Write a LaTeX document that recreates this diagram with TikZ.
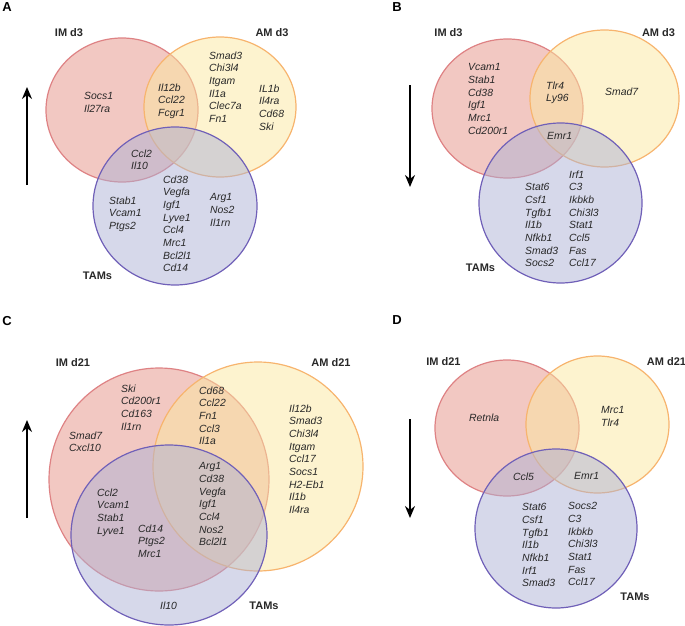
\documentclass[tikz,border=0pt]{standalone}
\usepackage{fontspec}
\setmainfont{Liberation Sans}
\usetikzlibrary{arrows.meta}
\definecolor{redfill}{RGB}{229,145,133}
\definecolor{yelfill}{RGB}{251,231,159}
\definecolor{blufill}{RGB}{173,177,213}
\definecolor{redline}{RGB}{222,130,132}
\definecolor{yelline}{RGB}{247,180,110}
\definecolor{bluline}{RGB}{112,96,184}
\definecolor{txt}{RGB}{40,40,40}
\begin{document}
\begin{tikzpicture}[x=1pt,y=-1pt,
  imset/.style={draw=redline,fill=redfill,fill opacity=0.5,line width=1.2pt},
  amset/.style={draw=yelline,fill=yelfill,fill opacity=0.5,line width=1.2pt},
  tamset/.style={draw=bluline,fill=blufill,fill opacity=0.5,line width=1.2pt},
  gene/.style={font=\fontsize{10.4}{12.7}\selectfont\itshape,anchor=north west,inner sep=0pt,align=left,text=txt},
  setlabel/.style={font=\fontsize{11}{13}\selectfont\bfseries,inner sep=0pt,text=txt},
  panel/.style={font=\fontsize{13}{15}\selectfont\bfseries,inner sep=0pt,text=black},
  trend/.style={line width=1.7pt,-{Stealth[length=12pt,width=10pt]}}]
\useasboundingbox (0,0) rectangle (685,626);

% ---------------- Panel A ----------------
\draw[imset] (122,110) ellipse [x radius=76pt,y radius=72pt];
\draw[amset] (220,107) ellipse [x radius=76pt,y radius=70pt];
\draw[tamset] (175,206) ellipse [x radius=82pt,y radius=79pt];
\node[panel] (pA) at (7,7) {A};
\node[setlabel] (lA1) at (69,33) {IM d3};
\node[setlabel] (lA2) at (272,33) {AM d3};
\node[setlabel] (lA3) at (97.5,276) {TAMs};
\node[gene] (a1) at (84,92.3) {Socs1\\Il27ra};
\node[gene] (a2) at (158,83.3) {Il12b\\Ccl22\\Fcgr1};
\node[gene] (a3) at (209,51.3) {Smad3\\Chi3l4\\Itgam\\Il1a\\Clec7a\\Fn1};
\node[gene] (a4) at (259,84.3) {IL1b\\Il4ra\\Cd68\\Ski};
\node[gene] (a5) at (131,149.3) {Ccl2\\Il10};
\node[gene] (a6) at (163,175.3) {Cd38\\Vegfa\\Igf1\\Lyve1\\Ccl4\\Mrc1\\Bcl2l1\\Cd14};
\node[gene] (a7) at (109,196.3) {Stab1\\Vcam1\\Ptgs2};
\node[gene] (a8) at (210,193.3) {Arg1\\Nos2\\Il1rn};
\coordinate (arA1) at (27,185);
\coordinate (arA2) at (27,87);
\draw[trend] (arA1) -- (arA2);

% ---------------- Panel B ----------------
\draw[imset] (507.5,108.5) ellipse [x radius=75.5pt,y radius=69.5pt];
\draw[amset] (604.5,98.5) ellipse [x radius=74.5pt,y radius=68.5pt];
\draw[tamset] (560.5,203) ellipse [x radius=81.5pt,y radius=80pt];
\node[panel] (pB) at (397,7) {B};
\node[setlabel] (lB1) at (448.5,33) {IM d3};
\node[setlabel] (lB2) at (658.5,33) {AM d3};
\node[setlabel] (lB3) at (480.5,268) {TAMs};
\node[gene] (b1) at (468,63.3) {Vcam1\\Stab1\\Cd38\\Igf1\\Mrc1\\Cd200r1};
\node[gene] (b2) at (546,81.3) {Tlr4\\Ly96};
\node[gene] (b3) at (605,87.3) {Smad7};
\node[gene] (b4) at (547,132.3) {Emr1};
\node[gene] (b5) at (525,183.3) {Stat6\\Csf1\\Tgfb1\\Il1b\\Nfkb1\\Smad3\\Socs2};
\node[gene] (b6) at (569,170.3) {Irf1\\C3\\Ikbkb\\Chi3l3\\Stat1\\Ccl5\\Fas\\Ccl17};
\coordinate (arB1) at (410,85);
\coordinate (arB2) at (410,187);
\draw[trend] (arB1) -- (arB2);

% ---------------- Panel C ----------------
\draw[imset] (159,479.5) ellipse [x radius=110pt,y radius=111.5pt];
\draw[amset] (258,466.5) ellipse [x radius=105pt,y radius=104.5pt];
\draw[tamset] (169,535) ellipse [x radius=98pt,y radius=90pt];
\node[panel] (pC) at (7,321) {C};
\node[setlabel] (lC1) at (73,363) {IM d21};
\node[setlabel] (lC2) at (331,363) {AM d21};
\node[setlabel] (lC3) at (264,606) {TAMs};
\node[gene] (c1) at (121,384.3) {Ski\\Cd200r1\\Cd163\\Il1rn};
\node[gene] (c2) at (69,431.3) {Smad7\\Cxcl10};
\node[gene] (c3) at (199,386.3) {Cd68\\Ccl22\\Fn1\\Ccl3\\Il1a};
\node[gene] (c4) at (289,404.3) {Il12b\\Smad3\\Chi3l4\\Itgam\\Ccl17\\Socs1\\H2-Eb1\\Il1b\\Il4ra};
\node[gene] (c5) at (199,462.3) {Arg1\\Cd38\\Vegfa\\Igf1\\Ccl4\\Nos2\\Bcl2l1};
\node[gene] (c6) at (97,488.3) {Ccl2\\Vcam1\\Stab1\\Lyve1};
\node[gene] (c7) at (138,524.3) {Cd14\\Ptgs2\\Mrc1};
\node[gene] (c8) at (160,601.3) {Il10};
\coordinate (arC1) at (27,518);
\coordinate (arC2) at (27,420);
\draw[trend] (arC1) -- (arC2);

% ---------------- Panel D ----------------
\draw[imset] (507,428) ellipse [x radius=72pt,y radius=68pt];
\draw[amset] (597.5,424.5) ellipse [x radius=71.5pt,y radius=68.5pt];
\draw[tamset] (556,528.5) ellipse [x radius=81pt,y radius=79.5pt];
\node[panel] (pD) at (397,320) {D};
\node[setlabel] (lD1) at (443.5,362) {IM d21};
\node[setlabel] (lD2) at (666.5,362) {AM d21};
\node[setlabel] (lD3) at (635,597) {TAMs};
\node[gene] (d1) at (469,413.3) {Retnla};
\node[gene] (d2) at (601,406.3) {Mrc1\\Tlr4};
\node[gene] (d3) at (513,472.3) {Ccl5};
\node[gene] (d4) at (574,472.3) {Emr1};
\node[gene] (d5) at (522,503.3) {Stat6\\Csf1\\Tgfb1\\Il1b\\Nfkb1\\Irf1\\Smad3};
\node[gene] (d6) at (568,502.3) {Socs2\\C3\\Ikbkb\\Chi3l3\\Stat1\\Fas\\Ccl17};
\coordinate (arD1) at (410,419);
\coordinate (arD2) at (410,518);
\draw[trend] (arD1) -- (arD2);
\end{tikzpicture}
\end{document}
